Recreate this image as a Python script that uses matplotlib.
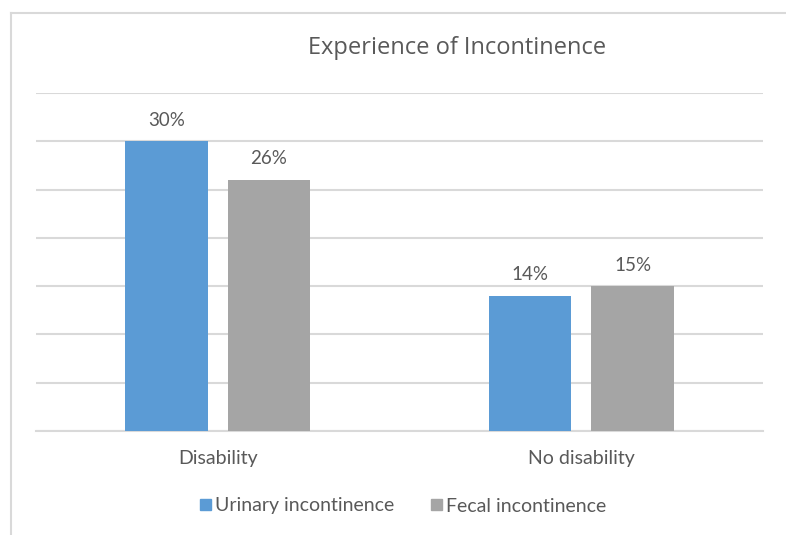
import numpy as np
import matplotlib.pyplot as plt
from matplotlib.lines import Line2D
from matplotlib.patches import Patch

categories = ["Disability", "No disability"]
series_names = ["Urinary incontinence", "Fecal incontinence"]
urinary = [30, 14]
fecal = [26, 15]

BLUE = "#5B9BD5"
GRAY = "#A5A5A5"
TEXT = "#595959"
GRID = "#D9D9D9"

plt.rcParams['font.family'] = ['Lato', 'DejaVu Sans']

fig = plt.figure(figsize=(7.86, 5.35), dpi=100)
ax = fig.add_axes([36 / 786, 1 - 431 / 535, 727 / 786, 338 / 535])

x = np.arange(len(categories))
width = 0.226
offset = 0.141
bars1 = ax.bar(x - offset, urinary, width, color=BLUE, zorder=3)
bars2 = ax.bar(x + offset, fecal, width, color=GRAY, zorder=3)

for bars, vals in [(bars1, urinary), (bars2, fecal)]:
    for b, v in zip(bars, vals):
        ax.annotate("{}%".format(v), (b.get_x() + b.get_width() / 2, v),
                    xytext=(0, 9), textcoords="offset points",
                    ha="center", va="bottom", fontsize=13.5, color=TEXT)

ax.set_xlim(-0.5, 1.5)
ax.set_ylim(0, 35)
ax.set_yticks(np.arange(0, 36, 5))
ax.yaxis.grid(True, color=GRID, linewidth=1.5, zorder=0)
ax.tick_params(axis="y", left=False, labelleft=False)
ax.tick_params(axis="x", bottom=False, pad=10, labelsize=14, labelcolor=TEXT)
ax.set_xticks(x)
ax.set_xticklabels(categories)
for s in ["top", "right", "left"]:
    ax.spines[s].set_visible(False)
ax.spines["bottom"].set_color(GRID)
ax.spines["bottom"].set_linewidth(1.5)

fig.text(457 / 786, 1 - 48 / 535, "Experience of Incontinence", ha="center",
         va="center", fontsize=17, color=TEXT, family=["Open Sans", "DejaVu Sans"])

handles = [Patch(color=BLUE), Patch(color=GRAY)]
leg = fig.legend(handles, series_names, loc="center", ncol=2,
                 bbox_to_anchor=(403 / 786, 1 - 506 / 535), frameon=False,
                 handlelength=0.55, handleheight=0.55, handletextpad=0.2,
                 columnspacing=1.9, prop={"size": 14})
for t in leg.get_texts():
    t.set_color(TEXT)

# chart frame (only top and left edges visible)
fig.add_artist(Line2D([11 / 786, 1], [1 - 13 / 535, 1 - 13 / 535],
                      color=GRID, linewidth=1.5, transform=fig.transFigure))
fig.add_artist(Line2D([11 / 786, 11 / 786], [0, 1 - 13 / 535],
                      color=GRID, linewidth=1.5, transform=fig.transFigure))

plt.savefig("out.png", dpi=100)
